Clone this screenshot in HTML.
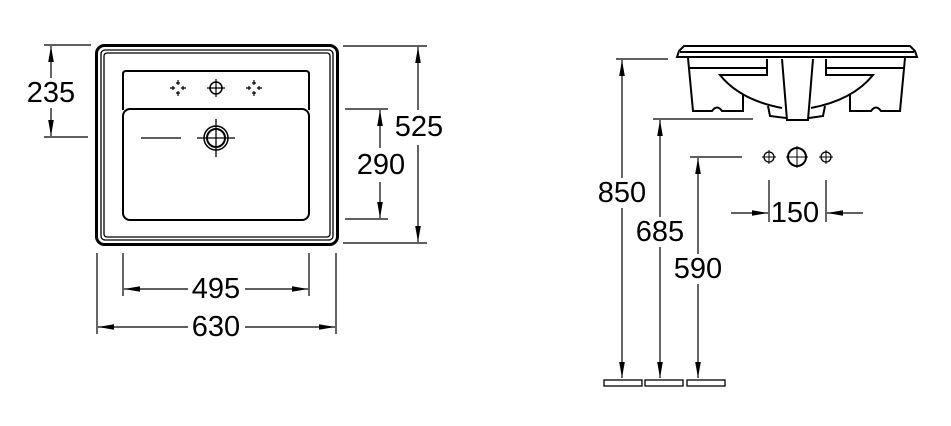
<!DOCTYPE html>
<html><head><meta charset="utf-8"><style>
html,body{margin:0;padding:0;background:#fff;}
svg{display:block;}
text{font-family:"Liberation Sans",Arial,sans-serif;font-size:29px;fill:#000;text-anchor:middle;dominant-baseline:central;}
</style></head><body>
<svg width="951" height="426" viewBox="0 0 951 426" xmlns="http://www.w3.org/2000/svg">
<defs>
<marker id="b" viewBox="0 0 20 10" refX="20" refY="5" markerWidth="24" markerHeight="8" markerUnits="userSpaceOnUse" orient="auto-start-reverse"><path d="M0,1.5L20,5L0,8.5z" fill="#000"/></marker>
</defs>
<g fill="none" stroke="#000">
<rect x="96.5" y="45.5" width="241" height="199" rx="8" stroke-width="3"/>
<rect x="101" y="50" width="232" height="190" rx="4" stroke-width="1.3"/>
<rect x="104" y="53" width="226" height="184" rx="3" stroke-width="1.3"/>
<path d="M123,110 L123,74 Q123,71 126,71 L306,71 Q309,71 309,74 L309,110" stroke-width="2"/>
<rect x="123" y="109" width="186" height="111" rx="7" stroke-width="2"/>
<line x1="141" y1="138" x2="181" y2="138" stroke-width="1.3"/>
<circle cx="216" cy="138" r="12" stroke-width="1.5"/>
<circle cx="216" cy="138" r="9" stroke-width="2"/>
<line x1="197" y1="138" x2="235" y2="138" stroke-width="1.3"/>
<line x1="216" y1="119" x2="216" y2="157" stroke-width="1.3"/>
<circle cx="216" cy="88" r="6" stroke-width="1.5"/>
<line x1="207" y1="88" x2="225" y2="88" stroke-width="1.2"/>
<line x1="216" y1="79" x2="216" y2="97" stroke-width="1.2"/>
<g stroke-width="1.2">
<path d="M170,88h5M181,88h5M178,80v5M178,91v5M173,86v4M183,86v4M176,83h4M176,93h4"/>
<path d="M246,88h5M257,88h5M254,80v5M254,91v5M249,86v4M259,86v4M252,83h4M252,93h4"/>
</g>
<g stroke-width="1.2">
<line x1="44" y1="45" x2="91" y2="45"/>
<line x1="44" y1="137" x2="88" y2="137"/>
<line x1="51" y1="78" x2="51" y2="46" marker-end="url(#b)"/>
<line x1="51" y1="108" x2="51" y2="136" marker-end="url(#b)"/>
<line x1="343" y1="46" x2="427" y2="46"/>
<line x1="343" y1="243" x2="427" y2="243"/>
<line x1="418" y1="110" x2="418" y2="47" marker-end="url(#b)"/>
<line x1="418" y1="145" x2="418" y2="242" marker-end="url(#b)"/>
<line x1="345" y1="109" x2="388" y2="109"/>
<line x1="345" y1="219" x2="388" y2="219"/>
<line x1="380" y1="148" x2="380" y2="110" marker-end="url(#b)"/>
<line x1="380" y1="182" x2="380" y2="218" marker-end="url(#b)"/>
<line x1="123" y1="253" x2="123" y2="296"/>
<line x1="309" y1="253" x2="309" y2="296"/>
<line x1="188" y1="289" x2="124" y2="289" marker-end="url(#b)"/>
<line x1="245" y1="289" x2="308" y2="289" marker-end="url(#b)"/>
<line x1="97" y1="253" x2="97" y2="334"/>
<line x1="336" y1="253" x2="336" y2="334"/>
<line x1="188" y1="327" x2="98" y2="327" marker-end="url(#b)"/>
<line x1="245" y1="327" x2="335" y2="327" marker-end="url(#b)"/>
</g>
<g stroke-width="2">
<path d="M679,51 L684,46 L910,46 L915,51 L917,57 L677,57 Z"/>
<line x1="680" y1="52" x2="914" y2="52"/>
<path d="M688,58 L693,111 L712,111 Q717,104 722,111 L743,111 L743,95"/>
<path d="M905,58 L900,111 L881,111 Q876,104 871,111 L850,111 L850,95"/>
<path d="M688,68 L767,68 L767,59 M767,68 L767,75 L720,75 Q740,100 782,108"/>
<path d="M905,68 L826,68 L826,59 M826,68 L826,75 L873,75 Q853,100 811,108"/>
<path d="M782,59 L787,120 L808,120 L813,59"/>
<path d="M768,106 L770,116 L786,118 M825,106 L823,116 L809,118"/>
</g>
<g stroke-width="1.2">
<line x1="616" y1="59" x2="668" y2="59"/>
<line x1="653" y1="119" x2="753" y2="119"/>
<line x1="690" y1="157" x2="742" y2="157"/>
<line x1="622" y1="60" x2="622" y2="378" marker-start="url(#b)" marker-end="url(#b)"/>
<line x1="660" y1="120" x2="660" y2="378" marker-start="url(#b)" marker-end="url(#b)"/>
<line x1="698" y1="158" x2="698" y2="378" marker-start="url(#b)" marker-end="url(#b)"/>
<line x1="769" y1="180" x2="769" y2="222"/>
<line x1="826" y1="180" x2="826" y2="222"/>
<line x1="731" y1="213" x2="768" y2="213" marker-end="url(#b)"/>
<line x1="863" y1="213" x2="827" y2="213" marker-end="url(#b)"/>
</g>
<circle cx="769" cy="157" r="5" stroke-width="1.3"/>
<path d="M762,157h14M769,150v14" stroke-width="1"/>
<circle cx="797" cy="157" r="9" stroke-width="2"/>
<path d="M786,157h22M797,146v22" stroke-width="1"/>
<circle cx="826" cy="157" r="5" stroke-width="1.3"/>
<path d="M819,157h14M826,150v14" stroke-width="1"/>
<g stroke-width="1.3">
<rect x="604" y="380" width="38" height="6"/>
<rect x="645" y="380" width="38" height="6"/>
<rect x="687" y="380" width="38" height="6"/>
</g>
</g>
<g>
<rect x="598" y="178" width="49" height="30" fill="#fff"/>
<rect x="635" y="217" width="50" height="30" fill="#fff"/>
<rect x="673" y="254" width="50" height="30" fill="#fff"/>
</g>
<text x="51" y="93">235</text>
<text x="419" y="127">525</text>
<text x="381" y="165">290</text>
<text x="216" y="289">495</text>
<text x="216" y="327">630</text>
<text x="622" y="193">850</text>
<text x="660" y="232">685</text>
<text x="698" y="269">590</text>
<text x="795" y="213">150</text>
</svg>
</body></html>
